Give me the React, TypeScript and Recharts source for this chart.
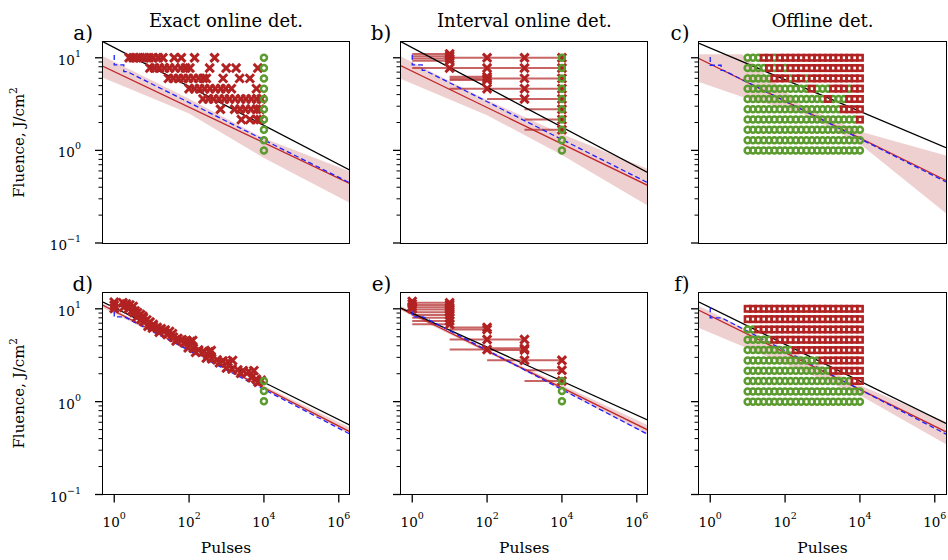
import React from "react";
import { Area, ComposedChart, ErrorBar, Line, Scatter, XAxis, YAxis } from "recharts";

const FONT = "DejaVu Serif";
const RED = "#b22222";
const FIT_RED = "#c0282b";
const GREEN = "#5b9b2f";
const BLUE = "#1f1fff";

type Pt = [number, number];
type BandPt = [number, number, number];
type Det = [number, number, number];

const X_TICKS = [1, 100, 10000, 1000000];
const Y_TICKS = [0.1, 0.2, 0.3, 0.4, 0.5, 0.6, 0.7, 0.8, 0.9, 1, 2, 3, 4, 5, 6, 7, 8, 9, 10];
const X_DOMAIN: [number, number] = [0.501, 1.995e6];
const Y_DOMAIN: [number, number] = [0.1, 14.8];

const TITLES = ["Exact online det.", "Interval online det.", "Offline det."];
const LETTERS = ["a)", "b)", "c)", "d)", "e)", "f)"];

// fluence levels tested (J/cm2), top to bottom
const F_LEVELS = [10, 7.74, 5.99, 4.64, 3.59, 2.78, 2.15, 1.67, 1.29, 1.0];

// pulse counts used for offline inspection (columns)
const OFFLINE_N = [10, 13.9, 19.3, 26.8, 37.3, 51.8, 72, 100, 139, 193, 268, 373, 518, 720, 1000, 1389, 1931, 2683, 3728, 5179, 7197, 10000];

// ---- a) exact online
const A_BLACK: Pt[] = [[0.501, 14.9], [1.995e6, 0.61]];
const A_FIT: Pt[] = [[0.501, 8.1], [1.995e6, 0.436]];
const A_BAND: BandPt[] = [[0.501, 6.08, 10.4], [100, 2.5, 3.6], [10000, 0.83, 1.35], [1.995e6, 0.27, 0.593]];
const A_BLUE: Pt[] = [[1, 10.7], [1, 8.36], [1.8, 8.36], [1.8, 7.1], [2.2, 7.1], [1.995e6, 0.445]];
// failure pulse counts per fluence row (rows 0..6 of F_LEVELS)
const A_FAIL_N: number[][] = [
  [2.5, 3.2, 4, 5, 6.5, 8.5, 11, 15, 20, 40, 62, 140, 480],
  [9, 12, 16, 22, 30, 42, 60, 80, 105, 355, 980, 1800, 6900],
  [28, 38, 52, 70, 95, 130, 180, 240, 290, 810, 2240, 4200],
  [100, 140, 190, 260, 360, 500, 700, 950, 1350, 6300],
  [235, 330, 450, 630, 880, 1200, 1700, 2400, 3300, 4600, 6400, 8500],
  [690, 1650, 2300, 3200, 4500, 6300, 7800],
  [2500, 4200, 6600, 8000],
];
const A_SURV = [10, 7.74, 5.99, 4.64, 3.59, 2.78, 2.15, 1.67, 1.29, 1.0];

// ---- b) interval online
const B_BLACK: Pt[] = [[0.501, 14.9], [1.995e6, 0.575]];
const B_FIT: Pt[] = [[0.501, 8.2], [1.995e6, 0.417]];
const B_BAND: BandPt[] = [[0.501, 5.9, 10.35], [100, 2.4, 3.5], [10000, 0.89, 1.5], [1.995e6, 0.253, 0.63]];
const B_BLUE: Pt[] = [[1, 10.8], [1, 8.4], [1.85, 8.4], [1.85, 7.3], [2.2, 7.3], [1.995e6, 0.446]];
// [detected at N, fluence, previous check N]
const B_DET: Det[] = [
  [10, 11.0, 1], [10, 10.4, 1], [10, 9.8, 1], [10, 9.3, 1],
  [100, 10, 10], [1000, 10, 100], [10000, 10, 1000],
  [10, 7.74, 1], [100, 7.74, 10], [1000, 7.74, 100], [10000, 7.74, 1000],
  [100, 6.25, 10], [100, 5.99, 10], [100, 5.75, 10], [1000, 5.99, 100], [10000, 5.99, 1000],
  [100, 4.64, 10], [1000, 4.64, 100], [10000, 4.64, 1000],
  [1000, 3.59, 100], [10000, 3.59, 1000],
  [10000, 2.78, 1000], [10000, 2.15, 1000], [10000, 1.67, 1000],
];
const B_SURV = [10, 7.74, 5.99, 4.64, 3.59, 2.78, 2.15, 1.67, 1.29, 1.0];

// ---- c) offline
const C_BLACK: Pt[] = [[0.501, 14.3], [1.995e6, 1.07]];
const C_FIT: Pt[] = [[0.501, 9.8], [1.995e6, 0.474]];
const C_BAND: BandPt[] = [[0.501, 5.47, 10.9], [7, 3.8, 10.9], [300, 2.5, 3.0], [10000, 1.17, 1.6], [1.995e6, 0.21, 0.88]];
const C_BLUE: Pt[] = [[1, 10.2], [1, 8.3], [1.95, 8.3], [1.95, 7.3], [2.3, 7.3], [1.995e6, 0.457]];
// R = damaged, g = intact, one char per OFFLINE_N column, rows follow F_LEVELS
const C_ROWS = [
  "gggRRgRRRRRRRRRRRRRRRR",
  "ggggRgRgRRRRRRRRRRRRRR",
  "gggggRRRgRRgRRRRRRRRRR",
  "ggggggggggggRgggRRRgRR",
  "gggggggggggggggRgggRRR",
  "ggggggggggggggggggRRRR",
  "gggggggggggggggggggggR",
  "gggggggggggggggggggggg",
  "gggggggggggggggggggggg",
  "gggggggggggggggggggggg",
];

// ---- d) exact online, adaptive
const D_BLACK: Pt[] = [[0.501, 11.8], [1.995e6, 0.558]];
const D_FIT: Pt[] = [[0.501, 10.9], [1.995e6, 0.473]];
const D_BAND: BandPt[] = [[0.501, 10.2, 11.4], [1000, 2.22, 2.33], [1.995e6, 0.445, 0.525]];
const D_BLUE: Pt[] = [[1, 11.4], [1, 8.2], [1.85, 8.2], [1.995e6, 0.447]];
const D_FAIL: Pt[] = [
  [1, 11.8], [1, 10.9], [1, 10.1],
  [1.7, 11.6], [2.1, 11.3], [2.6, 11.0], [3.2, 10.6], [1.8, 10.4], [2.4, 10.0], [3.0, 9.6], [3.4, 9.1],
  [3.6, 9.5], [4.2, 9.1], [5.0, 8.7], [5.8, 8.3], [4.0, 8.1], [5.2, 7.7], [6.2, 7.3],
  [6.0, 8.0], [7.4, 7.6], [9.0, 7.2], [11, 6.8], [8.0, 6.5], [10.5, 6.2],
  [11, 6.5], [14, 6.3], [18, 6.1], [23, 5.9], [30, 5.7], [36, 5.4], [16, 5.6], [26, 5.3],
  [38, 4.95], [50, 4.8], [65, 4.65], [85, 4.55], [110, 4.45], [125, 4.55], [45, 4.5], [75, 4.3],
  [95, 3.8], [130, 3.75], [180, 3.6], [250, 3.5], [340, 3.45], [390, 3.55], [150, 3.4],
  [290, 2.95], [400, 2.9], [560, 2.82], [800, 2.75], [1100, 2.7], [1450, 2.78], [650, 2.62],
  [1000, 2.3], [1400, 2.25], [2000, 2.2], [2800, 2.15], [3900, 2.12], [5400, 2.16], [2400, 2.02],
  [4600, 1.82], [6300, 1.74], [8500, 1.7], [7000, 1.62],
];
const D_SURV = [1.67, 1.3, 1.01];

// ---- e) interval online, adaptive
const E_BLACK: Pt[] = [[0.501, 10.2], [1.995e6, 0.632]];
const E_FIT: Pt[] = [[0.501, 10.05], [1.995e6, 0.494]];
const E_BAND: BandPt[] = [[0.501, 9.6, 10.7], [1000, 2.15, 2.33], [1.995e6, 0.437, 0.558]];
const E_BLUE: Pt[] = [[1, 11.8], [1, 8.2], [1.95, 8.2], [1.995e6, 0.443]];
const E_DET: Det[] = [
  [1, 12.0, 1], [1, 11.3, 1], [1, 10.6, 1], [1, 10.0, 1],
  [10, 11.6, 1], [10, 11.0, 1], [10, 10.4, 1], [10, 9.8, 1], [10, 9.2, 1], [10, 8.6, 1], [10, 8.0, 1], [10, 7.4, 1], [10, 6.8, 1],
  [100, 6.3, 10], [100, 6.0, 10], [100, 4.67, 10], [100, 3.64, 10],
  [1000, 4.67, 100], [1000, 3.75, 100], [1000, 3.6, 100], [1000, 2.79, 100],
  [10000, 2.79, 1000], [10000, 2.18, 1000], [10000, 1.67, 1000],
];
const E_SURV = [1.67, 1.3, 1.01];

// ---- f) offline, adaptive
const F_BLACK: Pt[] = [[0.501, 11.8], [1.995e6, 0.583]];
const F_FIT: Pt[] = [[0.501, 9.64], [1.995e6, 0.473]];
const F_BAND: BandPt[] = [[0.501, 6.22, 10.7], [10000, 1.17, 1.5], [1.995e6, 0.347, 0.608]];
const F_BLUE: Pt[] = [[1, 10.4], [1, 8.0], [2.0, 8.0], [1.995e6, 0.447]];
const F_ROWS = [
  "RRRRRRRRRRRRRRRRRRRRRR",
  "RRRRRRRRRRRRRRRRRRRRRR",
  "ggRRRRRRRRRRRRRRRRRRRR",
  "gggggRRRRRRRRRRRRRRRRR",
  "gggggggggRRRRRRRRRRRRR",
  "ggggggggggggggRRRRRRRR",
  "ggggggggggggggggRRRRRR",
  "ggggggggggggggggggggRR",
  "gggggggggggggggggggggg",
  "gggggggggggggggggggggg",
];

const FRAME_LEFT = [102.5, 400.8, 699];
const FRAME_W = 247;
const ROW_TOP = [42, 292.5];
const ROW_H = [201, 201.5];
const Y_AXIS_W = 64;

const XMark = (p: any) => {
  const { cx, cy } = p;
  const s = 3.1;
  return (
    <path
      d={`M${cx - s},${cy - s}L${cx + s},${cy + s}M${cx - s},${cy + s}L${cx + s},${cy - s}`}
      stroke={RED}
      strokeWidth={3}
      strokeLinecap="square"
      fill="none"
    />
  );
};
const Ring = (p: any) => <circle cx={p.cx} cy={p.cy} r={3} fill="none" stroke={GREEN} strokeWidth={2.5} />;
const Box = (p: any) => (
  <rect x={p.cx - 2.7} y={p.cy - 2.7} width={5.4} height={5.4} fill="none" stroke={RED} strokeWidth={2.6} />
);

const sup = (v: number) => {
  const e = Math.round(Math.log10(v));
  return e < 0 ? "\u2212" + Math.abs(e) : String(e);
};

const YTick = (p: any, labels: boolean) => {
  const { x, y, payload } = p;
  const lg = Math.log10(payload.value);
  const major = Math.abs(lg - Math.round(lg)) < 1e-6;
  return (
    <g>
      <line x1={x - (major ? 8 : 4.5)} x2={x} y1={y} y2={y} stroke="#000" strokeWidth={major ? 1.3 : 1} />
      {labels && major && (
        <text x={x - 22} y={y + 2} textAnchor="end" dominantBaseline="central" fontFamily={FONT} fontSize={13.5} fill="#000">
          10<tspan dy={-7} fontSize={9.5}>{sup(payload.value)}</tspan>
        </text>
      )}
    </g>
  );
};

const XTick = (p: any) => {
  const { x, y, payload } = p;
  return (
    <g>
      <line x1={x} x2={x} y1={y} y2={y + 8} stroke="#000" strokeWidth={1.3} />
      <text x={x} y={y + 27} textAnchor="middle" dominantBaseline="central" fontFamily={FONT} fontSize={13.5} fill="#000">
        10<tspan dy={-7} fontSize={9.5}>{sup(payload.value)}</tspan>
      </text>
    </g>
  );
};

type PanelProps = {
  col: number;
  row: number;
  black: Pt[];
  fit: Pt[];
  band: BandPt[];
  blue: Pt[];
  red: { x: number; y: number; err?: number[] }[];
  green: { x: number; y: number }[];
  redShape: "x" | "box";
  bars?: boolean;
};

function Panel({ col, row, black, fit, band, blue, red, green, redShape, bars }: PanelProps) {
  const left = FRAME_LEFT[col];
  const top = ROW_TOP[row];
  const h = ROW_H[row];
  const rows = [
    ...band.map(([x, lo, hi]) => ({ x, band: [lo, hi] })),
    ...fit.map(([x, y]) => ({ x, fit: y })),
    ...black.map(([x, y]) => ({ x, black: y })),
    ...blue.map(([x, y]) => ({ x, blue: y })),
  ];
  const greenFirst = redShape === "box";
  const redLayer = (
    <Scatter
      key="red"
      data={red}
      dataKey="y"
      shape={redShape === "x" ? XMark : Box}
      isAnimationActive={false}
    >
      {bars && <ErrorBar dataKey="err" direction="x" width={0} stroke="rgba(178,34,34,0.7)" strokeWidth={2} />}
    </Scatter>
  );
  const greenLayer = <Scatter key="green" data={green} dataKey="y" shape={Ring} isAnimationActive={false} />;
  return (
    <>
      <div style={{ position: "absolute", left: left - Y_AXIS_W, top: top - 8 }}>
        <ComposedChart
          width={FRAME_W + Y_AXIS_W + 8}
          height={h + 52}
          data={rows}
          margin={{ top: 8, right: 8, bottom: 4, left: 0 }}
        >
          <XAxis
            dataKey="x"
            type="number"
            scale="log"
            domain={X_DOMAIN}
            allowDataOverflow
            ticks={X_TICKS}
            interval={0}
            height={40}
            axisLine={false}
            tickLine={false}
            tickSize={0}
            tickMargin={0}
            tick={row === 1 ? (p: any) => XTick(p) : false}
          />
          <YAxis
            type="number"
            scale="log"
            domain={Y_DOMAIN}
            allowDataOverflow
            ticks={Y_TICKS}
            interval={0}
            width={Y_AXIS_W}
            axisLine={false}
            tickLine={false}
            tickSize={0}
            tickMargin={0}
            tick={(p: any) => YTick(p, col === 0)}
          />
          <Area dataKey="band" type="linear" stroke="none" fill={RED} fillOpacity={0.21} connectNulls isAnimationActive={false} />
          {greenFirst ? greenLayer : redLayer}
          {greenFirst ? redLayer : greenLayer}
          <Line dataKey="fit" type="linear" stroke={FIT_RED} strokeWidth={1.3} dot={false} connectNulls isAnimationActive={false} />
          <Line dataKey="black" type="linear" stroke="#000" strokeWidth={1.3} dot={false} connectNulls isAnimationActive={false} />
          <Line dataKey="blue" type="linear" stroke={BLUE} strokeWidth={1.3} strokeDasharray="5 3" dot={false} connectNulls isAnimationActive={false} />
        </ComposedChart>
      </div>
      <div
        style={{
          position: "absolute",
          left: left - 0.7,
          top: top - 0.7,
          width: FRAME_W + 1.4,
          height: h + 1.4,
          boxSizing: "border-box",
          border: "1.4px solid #000",
          pointerEvents: "none",
        }}
      />
    </>
  );
}

const survPts = (n: number, fs: number[]) => fs.map((y) => ({ x: n, y }));
const detPts = (d: Det[]) => d.map(([x, y, lo]) => ({ x, y, err: [x - lo, 0] }));
const offlinePts = (rows: string[], kind: string) =>
  rows.flatMap((r, i) =>
    r.split("").flatMap((c, k) => (c === kind ? [{ x: OFFLINE_N[k], y: F_LEVELS[i] }] : []))
  );

const aRed = A_FAIL_N.flatMap((ns, i) => ns.map((x) => ({ x, y: F_LEVELS[i] })));
const dRed = D_FAIL.map(([x, y]) => ({ x, y }));

export default function App() {
  return (
    <div style={{ position: "absolute", left: 0, top: 0, width: 948, height: 560, background: "#fff", overflow: "hidden" }}>
      <Panel col={0} row={0} black={A_BLACK} fit={A_FIT} band={A_BAND} blue={A_BLUE} red={aRed} green={survPts(10000, A_SURV)} redShape="x" />
      <Panel col={1} row={0} black={B_BLACK} fit={B_FIT} band={B_BAND} blue={B_BLUE} red={detPts(B_DET)} green={survPts(10000, B_SURV)} redShape="x" bars />
      <Panel col={2} row={0} black={C_BLACK} fit={C_FIT} band={C_BAND} blue={C_BLUE} red={offlinePts(C_ROWS, "R")} green={offlinePts(C_ROWS, "g")} redShape="box" />
      <Panel col={0} row={1} black={D_BLACK} fit={D_FIT} band={D_BAND} blue={D_BLUE} red={dRed} green={survPts(10000, D_SURV)} redShape="x" />
      <Panel col={1} row={1} black={E_BLACK} fit={E_FIT} band={E_BAND} blue={E_BLUE} red={detPts(E_DET)} green={survPts(10000, E_SURV)} redShape="x" bars />
      <Panel col={2} row={1} black={F_BLACK} fit={F_FIT} band={F_BAND} blue={F_BLUE} red={offlinePts(F_ROWS, "R")} green={offlinePts(F_ROWS, "g")} redShape="box" />
      <svg width={948} height={560} style={{ position: "absolute", left: 0, top: 0, pointerEvents: "none" }}>
        {TITLES.map((t, i) => (
          <text key={t} x={FRAME_LEFT[i] + FRAME_W / 2} y={27} textAnchor="middle" fontFamily={FONT} fontSize={18} fill="#000">
            {t}
          </text>
        ))}
        {LETTERS.map((l, i) => (
          <text
            key={l}
            x={FRAME_LEFT[i % 3] - 9.5}
            y={ROW_TOP[Math.floor(i / 3)] - 2}
            textAnchor="end"
            fontFamily={FONT}
            fontSize={20}
            fill="#000"
          >
            {l}
          </text>
        ))}
        {ROW_TOP.map((t, i) => (
          <text
            key={"fl" + i}
            x={19}
            y={t + ROW_H[i] / 2}
            transform={`rotate(-90 19 ${t + ROW_H[i] / 2})`}
            textAnchor="middle"
            dominantBaseline="central"
            fontFamily={FONT}
            fontSize={15}
            fill="#000"
          >
            Fluence, J/cm<tspan dy={-6} fontSize={10.5}>2</tspan>
          </text>
        ))}
        {FRAME_LEFT.map((l, i) => (
          <text key={"p" + i} x={l + FRAME_W / 2} y={553} textAnchor="middle" fontFamily={FONT} fontSize={15.5} fill="#000">
            Pulses
          </text>
        ))}
      </svg>
    </div>
  );
}
